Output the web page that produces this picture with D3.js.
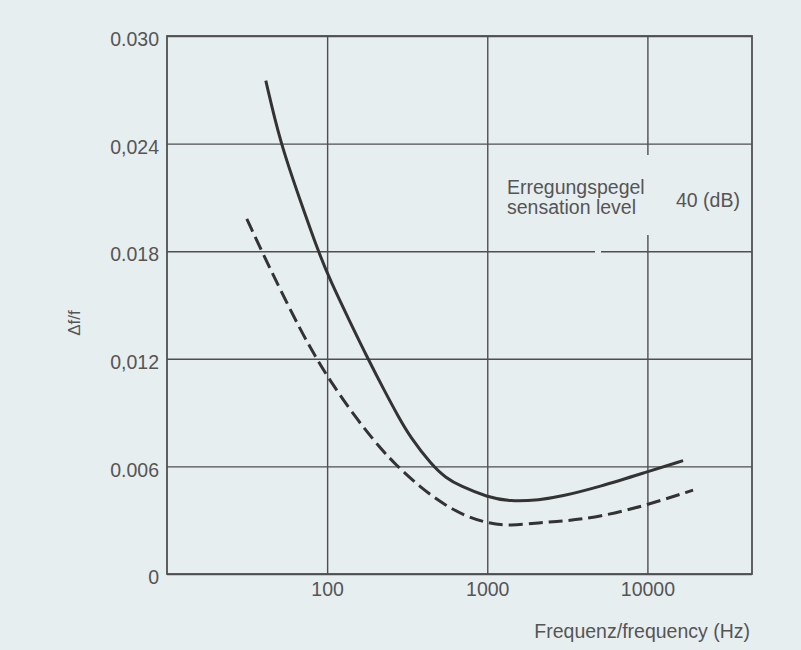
<!DOCTYPE html>
<html><head><meta charset="utf-8">
<script src="https://cdn.jsdelivr.net/npm/d3@7/dist/d3.min.js"></script>
<style>
html,body{margin:0;padding:0;background:#e7eef0;}
svg{display:block;}
text{font-family:"Liberation Sans",Arial,Helvetica,sans-serif;fill:#555;}
</style></head>
<body>
<svg id="chart" width="801" height="650"></svg>
<script>
// ---- data ----
const xTicks = [100, 1000, 10000];
const xTickLabels = ["100", "1000", "10000"];
const yTicks = [0, 0.006, 0.012, 0.018, 0.024, 0.030];
const yTickLabels = ["0", "0.006", "0,012", "0.018", "0,024", "0.030"];
const solidFreq = [41.4, 50.8, 67.7, 87.8, 104.3, 139, 177.5, 230, 277, 329.5, 450, 553, 676, 1000, 1388, 2137, 2849, 5065, 10000, 16710];
const solidVal  = [0.02751, 0.02409, 0.02086, 0.01801, 0.01639, 0.01405, 0.01210, 0.01015, 0.00881, 0.00764, 0.00608, 0.00535, 0.00491, 0.00429, 0.00404, 0.00413, 0.00431, 0.00487, 0.00570, 0.00632];
const dashFreq = [31.5, 40.9, 50.8, 67.7, 84.0, 101.7, 149.4, 214, 265.6, 380, 532, 727, 1000, 1388, 2137, 2849, 5065, 10000, 19290];
const dashVal  = [0.01980, 0.01762, 0.01589, 0.01366, 0.01216, 0.01093, 0.00875, 0.00703, 0.00613, 0.00485, 0.00390, 0.00323, 0.00284, 0.00268, 0.00287, 0.00293, 0.00318, 0.00385, 0.00468];
const xTitle = "Frequenz/frequency (Hz)";
const yTitle = "Δf/f";
const legendLines = ["Erregungspegel", "sensation level"];
const legendValue = "40 (dB)";

// ---- chart ----
const bg = "#e7eef0";
const fs = "19.5px";
const svg = d3.select("#chart");
const x = d3.scaleLog().domain([10, 45000]).range([167, 752]);
const y = d3.scaleLinear().domain([0, 0.030]).range([574, 36]);
const gridColor = "#4f4f4f";

// vertical grid
const gx = svg.append("g").attr("transform", `translate(0,${y(0)})`)
  .call(d3.axisBottom(x).tickValues(xTicks).tickSize(-(y(0) - y(0.030))).tickFormat((d, i) => xTickLabels[i]));
gx.select(".domain").remove();
gx.selectAll(".tick line").attr("stroke", gridColor).attr("stroke-width", 1.4);
gx.selectAll(".tick text").attr("y", 22).attr("dy", 0).style("font-size", fs).attr("fill", "#555");

// horizontal grid
const gy = svg.append("g").attr("transform", `translate(${x(10)},0)`)
  .call(d3.axisLeft(y).tickValues(yTicks).tickSize(-(x(45000) - x(10))).tickPadding(8).tickFormat((d, i) => yTickLabels[i]));
gy.select(".domain").remove();
gy.selectAll(".tick line").attr("stroke", gridColor).attr("stroke-width", 1.4);
gy.selectAll(".tick text").attr("dy", "0.5em").style("font-size", fs).attr("fill", "#555");

// frame
svg.append("rect").attr("x", x(10)).attr("y", y(0.030))
  .attr("width", x(45000) - x(10)).attr("height", y(0) - y(0.030))
  .attr("fill", "none").attr("stroke", gridColor).attr("stroke-width", 1.8);

// gaps in grid near legend
svg.append("rect").attr("x", x(10000) - 3).attr("y", 155).attr("width", 6).attr("height", 80).attr("fill", bg);
svg.append("rect").attr("x", 595).attr("y", y(0.018) - 3).attr("width", 6).attr("height", 6).attr("fill", bg);

// curves
const line = d3.line().x(d => x(d[0])).y(d => y(d[1])).curve(d3.curveBasis);
const solid = solidFreq.map((f, i) => [f, solidVal[i]]);
const dashed = dashFreq.map((f, i) => [f, dashVal[i]]);
svg.append("path").attr("d", line(solid)).attr("fill", "none").attr("stroke", "#333").attr("stroke-width", 3);
svg.append("path").attr("d", line(dashed)).attr("fill", "none").attr("stroke", "#333").attr("stroke-width", 3)
  .attr("stroke-dasharray", "14,6");

// legend
legendLines.forEach((t, i) => {
  svg.append("text").attr("x", 507).attr("y", 194 + i * 20).style("font-size", fs).text(t);
});
svg.append("text").attr("x", 676).attr("y", 207).style("font-size", fs).text(legendValue);

// axis titles
svg.append("text").attr("x", 750).attr("y", 638).attr("text-anchor", "end").style("font-size", fs).text(xTitle);
svg.append("text").attr("transform", "translate(80,323) rotate(-90)").attr("text-anchor", "middle")
  .style("font-size", "17px").attr("fill", "#888").text(yTitle);
</script>
</body></html>
